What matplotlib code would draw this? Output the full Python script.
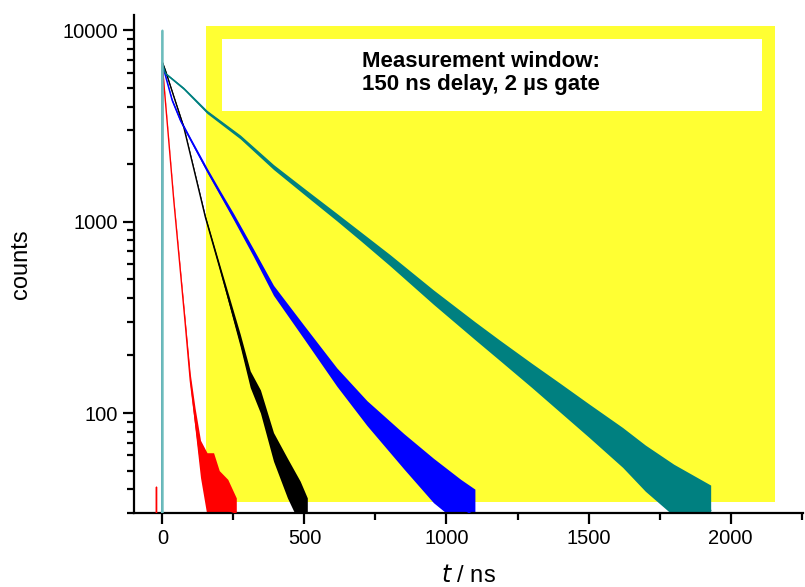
import matplotlib.pyplot as plt
from matplotlib.patches import Rectangle
from matplotlib.ticker import LogLocator, NullFormatter, MultipleLocator

plt.rcParams['font.family'] = ['Liberation Sans', 'DejaVu Sans']

# instrument response (light teal spike at t = 0)
t_irf = [-1, 0, 1]
c_irf = [1, 10000, 1]

# decays: time (ns), centre value, lower / upper noise envelope
t_red = [-22, -21, -20, -1, 0, 5, 20, 40, 60, 80, 98, 115, 134, 157, 180, 200, 230, 260]
c_red = [20, 41, 20, 20, 6500, 5300, 2900, 1290, 620, 296, 148, 93, 56, 39, 34, 32, 31, 30]
lo_red = [20, 41, 20, 20, 6450, 5250, 2870, 1270, 605, 285, 138, 82, 46, 29, 26, 26, 26, 26]
hi_red = [20, 41, 20, 20, 6550, 5350, 2930, 1310, 635, 308, 160, 106, 72, 62, 62, 50, 45, 36]

t_black = [-1, 0, 10, 40, 75, 110, 151, 200, 274, 309, 345, 391, 440, 485, 510]
c_black = [20, 6800, 6200, 4510, 3125, 1900, 1057, 588, 239, 150, 115, 66, 46, 32, 29]
lo_black = [20, 6750, 6150, 4460, 3090, 1870, 1035, 570, 222, 136, 100, 56, 36, 26, 26]
hi_black = [20, 6850, 6250, 4560, 3160, 1930, 1080, 608, 258, 166, 132, 79, 58, 44, 36]

t_blue = [-1, 0, 5, 34, 63, 100, 157, 204, 251, 320, 391, 500, 614, 720, 850, 954, 1050, 1100]
c_blue = [20, 6600, 6200, 4315, 3390, 2670, 1860, 1400, 1057, 689, 437, 262, 153, 99, 63, 44, 32, 29]
lo_blue = [20, 6550, 6120, 4230, 3320, 2610, 1810, 1360, 1020, 660, 412, 242, 138, 86, 51, 34, 26, 26]
hi_blue = [20, 6650, 6280, 4400, 3460, 2730, 1910, 1445, 1100, 722, 465, 285, 172, 116, 78, 58, 45, 40]

t_teal = [-1, 0, 10, 75, 157, 274, 391, 509, 614, 700, 800, 954, 1100, 1188, 1300, 1400, 1500, 1620, 1700, 1800, 1930]
c_teal = [20, 6700, 5970, 4970, 3750, 2775, 1930, 1400, 1057, 834, 631, 403, 269, 212, 157, 120, 91, 66, 52, 40, 31]
lo_teal = [20, 6650, 5900, 4900, 3680, 2710, 1875, 1350, 1010, 790, 590, 370, 242, 188, 136, 101, 75, 52, 39, 29, 26]
hi_teal = [20, 6750, 6040, 5040, 3820, 2840, 1990, 1455, 1105, 880, 675, 440, 300, 240, 182, 143, 112, 84, 68, 54, 42]

fig = plt.figure(figsize=(8.05, 5.87), dpi=100)
ax = fig.add_axes([0.1665, 0.126, 0.831, 0.848])

# measurement window
ax.add_patch(Rectangle((155, 34.4), 2000, 10530 - 34.4, facecolor='#ffff33',
                       edgecolor='none', zorder=0))
ax.add_patch(Rectangle((210, 3810), 1899, 8975 - 3810, facecolor='white',
                       edgecolor='none', zorder=1))
ax.text(703, 6000, 'Measurement window:\n150 ns delay, 2 µs gate', ha='left',
        va='center', fontsize=16, fontweight='bold', linespacing=1.1, zorder=5)

for t, c, lo, hi, col in [(t_red, c_red, lo_red, hi_red, '#ff0000'),
                          (t_black, c_black, lo_black, hi_black, '#000000'),
                          (t_blue, c_blue, lo_blue, hi_blue, '#0000ff'),
                          (t_teal, c_teal, lo_teal, hi_teal, '#008080')]:
    ax.fill_between(t, lo, hi, color=col, lw=0, zorder=2)
    ax.plot(t, c, color=col, lw=1.0, zorder=3)
ax.plot(t_irf, c_irf, color='#6cbcbc', lw=1.3, zorder=4)

ax.set_yscale('log')
ax.set_xlim(-100, 2255)
ax.set_ylim(30, 12000)

ax.xaxis.set_major_locator(MultipleLocator(500))
ax.xaxis.set_minor_locator(MultipleLocator(250))
ax.yaxis.set_major_locator(LogLocator(base=10, numticks=10))
ax.yaxis.set_minor_locator(LogLocator(base=10, subs=range(2, 10), numticks=20))
ax.yaxis.set_minor_formatter(NullFormatter())
ax.yaxis.set_major_formatter(plt.FuncFormatter(lambda v, p: '%d' % v))

for s in ['top', 'right']:
    ax.spines[s].set_visible(False)
for s in ['left', 'bottom']:
    ax.spines[s].set_linewidth(1.6)

ax.tick_params(which='major', direction='out', length=8, width=1.6, labelsize=14.5)
ax.tick_params(which='minor', direction='out', length=5, width=1.6)

ax.set_ylabel('counts', fontsize=17, labelpad=22)
ax.set_xlabel('$\\it{t}$ / ns', fontsize=17, labelpad=12)

fig.savefig('out.png', dpi=100)
